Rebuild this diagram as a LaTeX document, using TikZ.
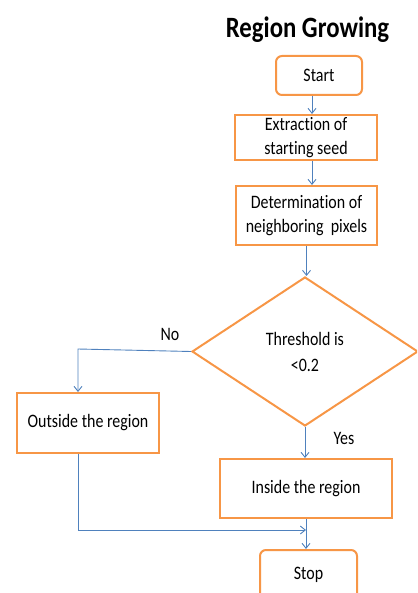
\documentclass[tikz,border=0pt]{standalone}
\usepackage{fontspec}
\setmainfont[FakeStretch=0.84,Ligatures={NoCommon}]{Carlito}
\usetikzlibrary{shapes.geometric,arrows.meta,calc}
\definecolor{boxorange}{HTML}{F79646}
\definecolor{arrowblue}{HTML}{4F81BD}
\begin{document}
\begin{tikzpicture}[x=1pt,y=-1pt,
  flowbox/.style={draw=boxorange,line width=2pt,fill=white,inner sep=0pt,align=center,font=\fontsize{19}{24}\selectfont},
  roundbox/.style={flowbox,rounded corners=6pt},
  decision/.style={diamond,draw=boxorange,line width=2pt,inner sep=0pt,align=center,font=\fontsize{19}{26}\selectfont},
  arr/.style={draw=arrowblue,line width=0.9pt,-{Straight Barb[length=5pt,width=8pt,line width=0.9pt]}},
  conn/.style={draw=arrowblue,line width=0.9pt},
  lbl/.style={font=\fontsize{19}{24}\selectfont,inner sep=0pt}]
\clip (0,0) rectangle (417,593);
\useasboundingbox (0,0) rectangle (417,593);
\node[font=\bfseries\fontsize{29.5}{32}\selectfont,inner sep=0pt] (title) at (307.5,30) {Region Growing};
\node[roundbox,minimum width=86pt,minimum height=39pt] (start) at (319,75.5) {Start};
\node[flowbox,minimum width=142pt,minimum height=45pt] (extr) at (306,137.5) {Extraction of\\starting seed};
\node[flowbox,minimum width=141pt,minimum height=59pt] (det) at (306.5,215.5) {Determination of\\neighboring~ pixels};
\node[decision,minimum width=226pt,minimum height=149pt] (dia) at (305,351.5) {Threshold is\\\textless0.2};
\node[flowbox,minimum width=142pt,minimum height=60pt] (out) at (88,423) {Outside the region};
\node[flowbox,minimum width=172pt,minimum height=59pt] (ins) at (306,488.5) {Inside the region};
\node[roundbox,minimum width=97pt,minimum height=50pt] (stop) at (308.5,575) {Stop};
\node[lbl] (no) at (170,334) {No};
\node[lbl] (yes) at (344,438) {Yes};
\coordinate (nocorner) at (78,349);
\coordinate (joincorner) at (78,530);
\coordinate (joinend) at (306,530);
\draw[arr] ([xshift=-7pt]start.south) -- ([xshift=-7pt]start.south |- extr.north);
\draw[arr] ([xshift=6pt]extr.south) -- ([xshift=6pt]extr.south |- det.north);
\draw[arr] (det.south) -- (det.south |- dia.north);
\draw[arr] (dia.west) -- (nocorner) -- (nocorner |- out.north);
\draw[arr] (dia.south) -- (dia.south |- ins.north);
\draw[conn] (nocorner |- out.south) -- (joincorner);
\draw[arr] (joincorner) -- (joinend);
\draw[arr] (ins.south) -- (ins.south |- stop.north);
\end{tikzpicture}
\end{document}
